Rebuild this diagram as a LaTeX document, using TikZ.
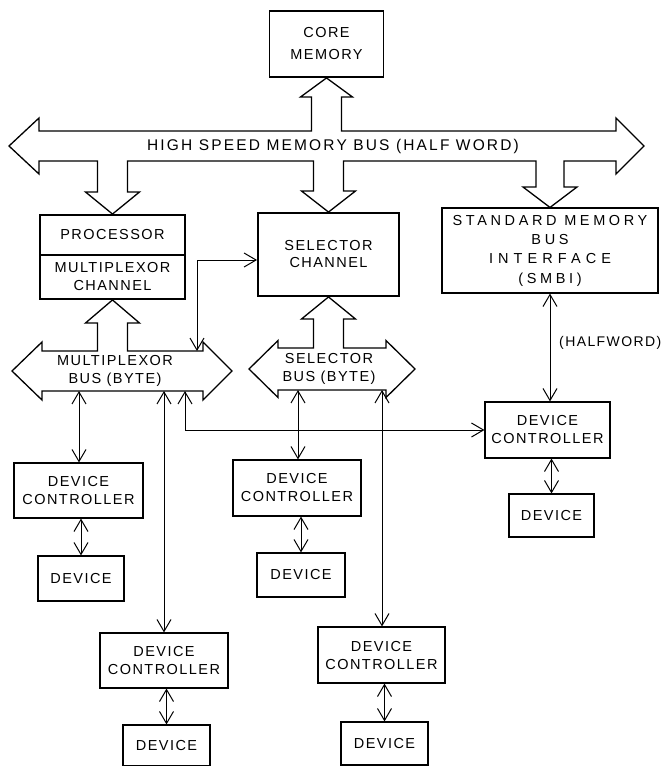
\documentclass[tikz,border=0pt]{standalone}
\usepackage{fontspec}
\setmainfont{Liberation Sans}
\newfontfamily\lblfont[LetterSpace=10]{Liberation Sans}
\newfontfamily\busfont[LetterSpace=14]{Liberation Sans}
\newfontfamily\widefont[LetterSpace=25]{Liberation Sans}
\newfontfamily\xwidefont[LetterSpace=35]{Liberation Sans}
\usetikzlibrary{arrows.meta}
\begin{document}
\begin{tikzpicture}[x=1pt,y=-1pt,
  box/.style={draw, line width=1.1pt, inner sep=0pt, align=center,
    font=\lblfont\fontsize{14.5}{18}\selectfont},
  thickbox/.style={box, line width=1.9pt},
  bus/.style={draw, line width=1.3pt, line join=miter},
  lbl/.style={inner sep=0pt, align=center, font=\lblfont\fontsize{14.5}{18}\selectfont},
  conn/.style={line width=1pt,
    {Straight Barb[length=12pt,width=14pt]}-{Straight Barb[length=12pt,width=14pt]}}]

\fill[white] (0,0) rectangle (665,766);
\useasboundingbox (0,0) rectangle (665,766);

% ---------- boxes ----------
\node[thickbox, minimum width=114pt, minimum height=66pt] (core) at (326.5,44) {CORE\\[4pt]MEMORY};
\node[thickbox, minimum width=145pt, minimum height=40pt] (proc) at (112.5,235) {PROCESSOR};
\node[thickbox, minimum width=145pt, minimum height=44pt] (muxch) at (112.5,277) {MULTIPLEXOR\\CHANNEL};
\node[thickbox, minimum width=141pt, minimum height=83pt] (sel) at (328.5,254.5) {SELECTOR\\[-1pt]CHANNEL};
\node[box, minimum width=216pt, minimum height=85pt, font=\widefont\fontsize{14.5}{19.3}\selectfont] (smbi) at (550,250.5)
  {STANDARD MEMORY\\BUS\\{\xwidefont INTERFACE}\\(SMBI)};

\node[box, minimum width=129pt, minimum height=55pt] (ldc) at (78.5,490.5) {DEVICE\\CONTROLLER};
\node[box, minimum width=86pt, minimum height=45pt] (ldev) at (81,578.5) {DEVICE};
\node[box, minimum width=128pt, minimum height=56pt] (mdc) at (297,488) {DEVICE\\CONTROLLER};
\node[box, minimum width=88pt, minimum height=44pt] (mdev) at (301,575) {DEVICE};
\node[box, minimum width=125pt, minimum height=56pt] (rdc) at (547.5,430) {DEVICE\\CONTROLLER};
\node[box, minimum width=85pt, minimum height=43pt] (rdev) at (551.5,515.5) {DEVICE};
\node[box, minimum width=128pt, minimum height=55pt] (bldc) at (164,660.5) {DEVICE\\CONTROLLER};
\node[box, minimum width=87pt, minimum height=41pt] (bldev) at (166.5,745.5) {DEVICE};
\node[box, minimum width=127pt, minimum height=56pt] (bmdc) at (381.5,655) {DEVICE\\CONTROLLER};
\node[box, minimum width=87pt, minimum height=43pt] (bmdev) at (384.5,743.5) {DEVICE};

% ---------- high speed memory bus ----------
\draw[bus] (9,146) -- (39,118) -- (39,131) -- (311.5,131) -- (311.5,97) -- (300.5,97)
  -- (core.south) -- (352.5,97) -- (341.5,97) -- (341.5,131) -- (616,131) -- (616,118)
  -- (644,146) -- (616,174) -- (616,161) -- (564,161) -- (564,187) -- (577,187)
  -- (smbi.north) -- (523,187) -- (536,187) -- (536,161) -- (343.5,161) -- (343.5,191)
  -- (355.5,191) -- (sel.north) -- (301.5,191) -- (313.5,191) -- (313.5,161)
  -- (127.5,161) -- (127.5,192) -- (139.5,192) -- (proc.north) -- (85.5,192)
  -- (97.5,192) -- (97.5,161) -- (39,161) -- (39,174) -- cycle;
\node[inner sep=0pt, font=\busfont\fontsize{15.5}{18}\selectfont] (hsmb) at (333,146)
  {HIGH SPEED MEMORY BUS (HALF WORD)};

% ---------- multiplexor bus ----------
\draw[bus] (12,371) -- (42,342) -- (42,351) -- (97.5,351) -- (97.5,323) -- (85.5,323)
  -- (muxch.south) -- (139.5,323) -- (127.5,323) -- (127.5,351) -- (203,351) -- (203,342)
  -- (232,371) -- (203,400) -- (203,391) -- (42,391) -- (42,400) -- cycle;
\node[lbl] (mbus) at (115,371) {MULTIPLEXOR\\BUS (BYTE)};

% ---------- selector bus ----------
\draw[bus] (249,369) -- (278,340.5) -- (278,348) -- (313.5,348) -- (313.5,319) -- (301.5,319)
  -- (sel.south) -- (355.5,319) -- (343.5,319) -- (343.5,348) -- (386,348) -- (386,340.5)
  -- (415,369) -- (386,397.5) -- (386,390) -- (278,390) -- (278,397.5) -- cycle;
\node[lbl] (sbus) at (329,369) {SELECTOR\\BUS (BYTE)};

% ---------- bus attachment points ----------
\coordinate (mbA) at (79,391);
\coordinate (mbB) at (164,391);
\coordinate (mbC) at (185,391);
\coordinate (mbT) at (197,351);
\coordinate (sbA) at (298,390);
\coordinate (sbB) at (382,390);

% ---------- connectors ----------
\draw[conn] (mbT) |- ([yshift=-5.5pt]sel.west);
\draw[conn] (mbA) -- (mbA |- ldc.north);
\draw[conn] (mbB) -- (bldc.north);
\draw[conn] (mbC) |- (rdc.west);
\draw[conn] (sbA) -- (sbA |- mdc.north);
\draw[conn] (sbB) -- (sbB |- bmdc.north);
\draw[conn] (smbi.south) -- (smbi.south |- rdc.north);
\node[anchor=west, inner sep=0pt, font=\lblfont\fontsize{14}{18}\selectfont] (hw) at (559,343) {(HALFWORD)};

\draw[conn] (ldev.north |- ldc.south) -- (ldev.north);
\draw[conn] (mdev.north |- mdc.south) -- (mdev.north);
\draw[conn] (rdev.north |- rdc.south) -- (rdev.north);
\draw[conn] (bldev.north |- bldc.south) -- (bldev.north);
\draw[conn] (bmdev.north |- bmdc.south) -- (bmdev.north);
\end{tikzpicture}
\end{document}
